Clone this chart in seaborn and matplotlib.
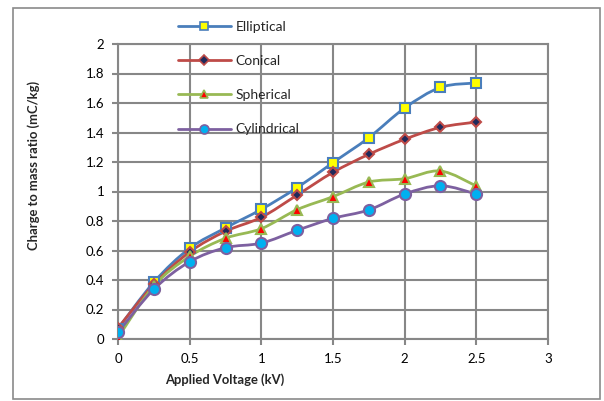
import matplotlib
matplotlib.use("Agg")
import matplotlib.pyplot as plt
import seaborn as sns
import pandas as pd
from matplotlib.patches import Rectangle, PathPatch
from matplotlib.path import Path
from matplotlib.lines import Line2D

voltage = [0, 0.25, 0.5, 0.75, 1.0, 1.25, 1.5, 1.75, 2.0, 2.25, 2.5]
elliptical = [0.07, 0.385, 0.615, 0.753, 0.879, 1.026, 1.196, 1.365, 1.566, 1.706, 1.736]
conical = [0.075, 0.37, 0.59, 0.73, 0.825, 0.976, 1.13, 1.252, 1.354, 1.435, 1.471]
spherical = [0.01, 0.36, 0.56, 0.683, 0.748, 0.877, 0.965, 1.064, 1.087, 1.139, 1.037]
cylindrical = [0.045, 0.337, 0.524, 0.619, 0.65, 0.737, 0.818, 0.875, 0.983, 1.039, 0.983]
series_names = ["Elliptical", "Conical", "Spherical", "Cylindrical"]
x_ticks = [0, 0.5, 1, 1.5, 2, 2.5, 3]
y_ticks = [0, 0.2, 0.4, 0.6, 0.8, 1, 1.2, 1.4, 1.6, 1.8, 2]

sns.set_theme(style="white")
plt.rcParams["font.family"] = ["Lato", "DejaVu Sans"]

df = pd.DataFrame({
    "Voltage": voltage * 4,
    "Value": elliptical + conical + spherical + cylindrical,
    "Shape": sum([[n] * len(voltage) for n in series_names], []),
})

line_colors = {"Elliptical": "#4A7EBB", "Conical": "#BE4B48",
               "Spherical": "#98B954", "Cylindrical": "#7D60A0"}
face_colors = {"Elliptical": "#FFFF00", "Conical": "#1F2A5C",
               "Spherical": "#FF0000", "Cylindrical": "#00B0F0"}
markers = {"Elliptical": "s", "Conical": "D", "Spherical": "^", "Cylindrical": "o"}
msizes = {"Elliptical": 7.5, "Conical": 5.5, "Spherical": 7, "Cylindrical": 8}
leg_msizes = {"Elliptical": 6, "Conical": 5, "Spherical": 6, "Cylindrical": 6.5}


def smooth_path(xs, ys):
    # Excel-style smoothed line: cubic Bezier through the data points
    n = len(xs)
    verts = [(xs[0], ys[0])]
    codes = [Path.MOVETO]
    for i in range(n - 1):
        x0, y0 = (xs[i - 1], ys[i - 1]) if i > 0 else (xs[i], ys[i])
        x1, y1 = xs[i], ys[i]
        x2, y2 = xs[i + 1], ys[i + 1]
        x3, y3 = (xs[i + 2], ys[i + 2]) if i + 2 < n else (x2, y2)
        c1 = (x1 + (x2 - x0) / 6, y1 + (y2 - y0) / 6)
        c2 = (x2 - (x3 - x1) / 6, y2 - (y3 - y1) / 6)
        verts += [c1, c2, (x2, y2)]
        codes += [Path.CURVE4] * 3
    return Path(verts, codes)


fig = plt.figure(figsize=(6.04, 4.01), dpi=100)
ax = fig.add_axes([118/604, 1-339/401, (548-118)/604, (339-44)/401])

handles = []
for name in series_names:
    sub = df[df["Shape"] == name]
    ax.add_patch(PathPatch(smooth_path(list(sub["Voltage"]), list(sub["Value"])),
                           transform=ax.transData, fill=False,
                           edgecolor=line_colors[name], linewidth=2, zorder=2.5))
    sns.lineplot(data=sub, x="Voltage", y="Value", ax=ax, linestyle="none",
                 marker=markers[name], markersize=msizes[name],
                 markerfacecolor=face_colors[name], markeredgecolor=line_colors[name],
                 markeredgewidth=1.5, zorder=3, legend=False)
    handles.append(Line2D([], [], color=line_colors[name], linewidth=2,
                          marker=markers[name], markersize=leg_msizes[name],
                          markerfacecolor=face_colors[name],
                          markeredgecolor=line_colors[name], markeredgewidth=1.2,
                          label=name))

ax.set_xlim(0, 3)
ax.set_ylim(0, 2)
ax.set_xticks(x_ticks)
ax.set_xticklabels([f"{t:g}" for t in x_ticks])
ax.set_yticks(y_ticks)
ax.set_yticklabels([f"{t:g}" for t in y_ticks])
ax.grid(True, color="#878787", linewidth=1.5)
ax.set_axisbelow(True)
for s in ax.spines.values():
    s.set_color("#878787")
    s.set_linewidth(1.5)
ax.tick_params(axis="both", which="both", length=4, width=1.5, color="#878787",
               labelsize=9.5, pad=6, labelcolor="black", left=True, bottom=True)
ax.set_xlabel("Applied Voltage (kV)", fontsize=9.4, fontweight="bold")
ax.set_ylabel("Charge to mass ratio (mC/kg)", fontsize=9.4, fontweight="bold")
ax.xaxis.set_label_coords((225 - 118) / 430, (339 - 380) / 295)
ax.yaxis.set_label_coords((34 - 118) / 430, (339 - 165) / 295)
ax.xaxis.label.set_va("center")
ax.yaxis.label.set_va("center")

leg = ax.legend(handles=handles, loc="upper left", bbox_to_anchor=(168/604, 1-11/401),
                bbox_transform=fig.transFigure, frameon=False, fontsize=10,
                handlelength=3.8, labelspacing=1.6, handletextpad=0.35,
                borderpad=0.2)

fig.patches.append(Rectangle((13/604, 1-399/401), (600-13)/604, (399-8)/401,
                             transform=fig.transFigure, fill=False,
                             edgecolor="#8a8a8a", linewidth=1.2))

fig.savefig("out.png", dpi=100)
